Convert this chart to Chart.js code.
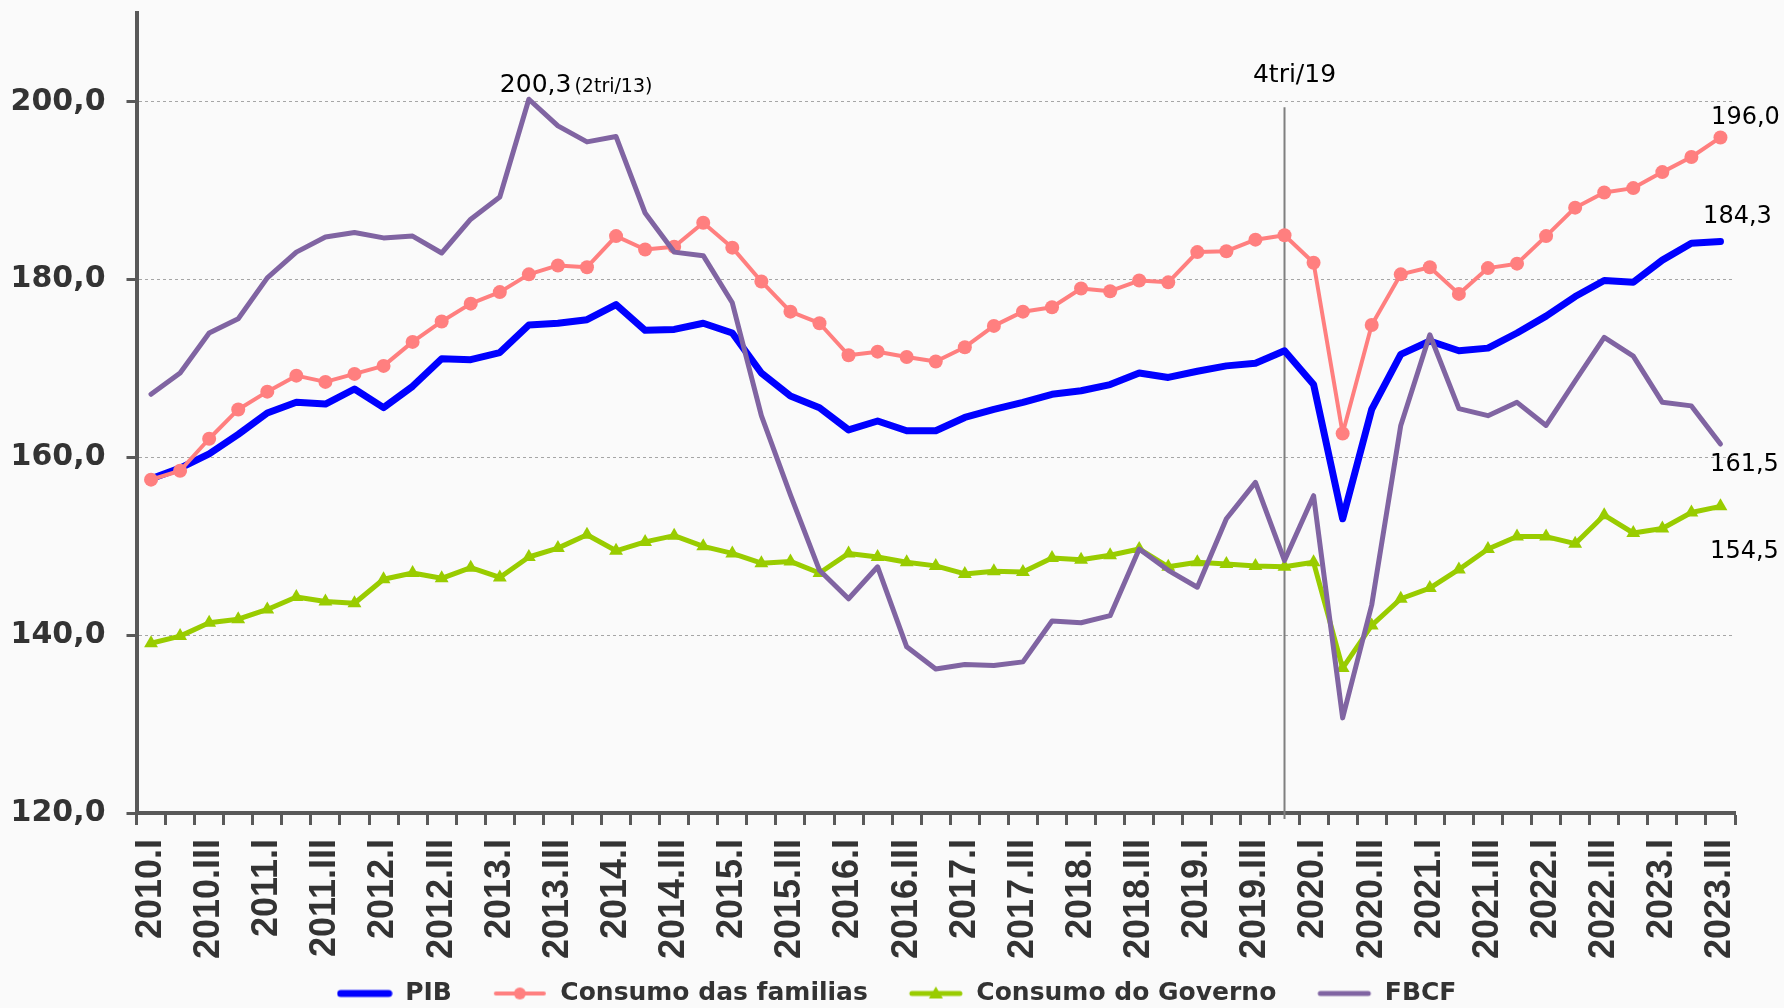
<!DOCTYPE html>
<html lang="pt-br">
<head>
<meta charset="UTF-8">
<title>PIB e componentes da demanda</title>
<script src="https://cdn.jsdelivr.net/npm/chart.js"></script>
<style>
  html, body { margin: 0; padding: 0; background: #fafafa; }
  #caixa { width: 1784px; height: 1008px; }
</style>
</head>
<body>
<div id="caixa"><canvas id="grafico"></canvas></div>

<script>
// trimestres 2010.I ... 2023.III
const trimestres = [
  '2010.I', '2010.II', '2010.III', '2010.IV',
  '2011.I', '2011.II', '2011.III', '2011.IV',
  '2012.I', '2012.II', '2012.III', '2012.IV',
  '2013.I', '2013.II', '2013.III', '2013.IV',
  '2014.I', '2014.II', '2014.III', '2014.IV',
  '2015.I', '2015.II', '2015.III', '2015.IV',
  '2016.I', '2016.II', '2016.III', '2016.IV',
  '2017.I', '2017.II', '2017.III', '2017.IV',
  '2018.I', '2018.II', '2018.III', '2018.IV',
  '2019.I', '2019.II', '2019.III', '2019.IV',
  '2020.I', '2020.II', '2020.III', '2020.IV',
  '2021.I', '2021.II', '2021.III', '2021.IV',
  '2022.I', '2022.II', '2022.III', '2022.IV',
  '2023.I', '2023.II', '2023.III'
];

const pib = [
  157.6, 158.8, 160.4, 162.6, 165.0, 166.2, 166.0, 167.7, 165.6, 168.0,
  171.1, 171.0, 171.8, 174.9, 175.1, 175.5, 177.2, 174.3, 174.4, 175.1,
  174.0, 169.5, 166.9, 165.6, 163.1, 164.1, 163.0, 163.0, 164.5, 165.4,
  166.2, 167.1, 167.5, 168.2, 169.5, 169.0, 169.7, 170.3, 170.6, 172.0,
  168.2, 153.1, 165.4, 171.6, 173.1, 172.0, 172.3, 174.0, 175.9, 178.1,
  179.9, 179.7, 182.2, 184.1, 184.3
];

const consumoFamilias = [
  157.5, 158.5, 162.1, 165.4, 167.4, 169.2, 168.5, 169.4, 170.3, 173.0,
  175.3, 177.3, 178.6, 180.6, 181.6, 181.4, 184.9, 183.4, 183.7, 186.4,
  183.6, 179.8, 176.4, 175.1, 171.5, 171.9, 171.3, 170.8, 172.4, 174.8,
  176.4, 176.9, 179.0, 178.7, 179.9, 179.7, 183.1, 183.2, 184.5, 185.0,
  181.9, 162.7, 174.9, 180.6, 181.4, 178.4, 181.3, 181.8, 184.9, 188.1,
  189.8, 190.3, 192.1, 193.8, 196.0
];

const consumoGoverno = [
  139.1, 139.9, 141.4, 141.8, 142.9, 144.3, 143.8, 143.6, 146.3, 147.0,
  146.4, 147.6, 146.5, 148.8, 149.8, 151.3, 149.5, 150.5, 151.2, 150.0,
  149.2, 148.1, 148.3, 147.0, 149.2, 148.8, 148.2, 147.8, 146.9, 147.2,
  147.1, 148.7, 148.5, 149.0, 149.7, 147.7, 148.2, 148.0, 147.8, 147.7,
  148.2, 136.3, 141.1, 144.1, 145.3, 147.4, 149.7, 151.1, 151.1, 150.3,
  153.5, 151.5, 152.0, 153.8, 154.5
];

const fbcf = [
  167.1, 169.5, 174.0, 175.6, 180.2, 183.1, 184.8, 185.3, 184.7, 184.9,
  183.0, 186.8, 189.3, 200.3, 197.3, 195.5, 196.1, 187.5, 183.1, 182.7,
  177.4, 164.7, 155.8, 147.3, 144.1, 147.7, 138.7, 136.2, 136.7, 136.6,
  137.0, 141.6, 141.4, 142.2, 149.7, 147.3, 145.4, 153.1, 157.2, 148.4,
  155.7, 130.7, 143.4, 163.6, 173.8, 165.5, 164.7, 166.2, 163.6, 168.6,
  173.5, 171.4, 166.2, 165.8, 161.5
];

const ticksY = [120, 140, 160, 180, 200];

const marco = '2019.IV';
const textoMarco = '4tri/19';
const rotuloPico = '(2tri/13)';

function virgula(v) {
  return v.toFixed(1).replace('.', ',');
}

// icone da legenda: linha com o marcador no meio
function iconeLegenda(ds) {
  const c = document.createElement('canvas');
  c.width = 56;
  c.height = 20;
  const g = c.getContext('2d');
  g.strokeStyle = ds.borderColor;
  g.fillStyle = ds.borderColor;
  g.lineWidth = ds.borderWidth;
  g.lineCap = 'round';
  g.beginPath();
  g.moveTo(4, 10);
  g.lineTo(52, 10);
  g.stroke();
  if (ds.pointStyle === 'circle' && ds.pointRadius > 0) {
    g.beginPath();
    g.arc(28, 10, 6, 0, 2 * Math.PI);
    g.fill();
  }
  if (ds.pointStyle === 'triangle') {
    g.beginPath();
    g.moveTo(28, 3);
    g.lineTo(35, 15);
    g.lineTo(21, 15);
    g.closePath();
    g.fill();
  }
  return c;
}

const anotacoes = {
  id: 'anotacoes',
  afterLayout(chart, args, opts) {
    // empurra a legenda para a posicao do original
    const lg = chart.legend;
    lg.left += opts.legendaDx;
    lg.right += opts.legendaDx;
    lg.top += opts.legendaDy;
    lg.bottom += opts.legendaDy;
  },
  beforeDatasetsDraw(chart) {
    const { ctx, chartArea, scales: { x, y } } = chart;
    const xm = x.getPixelForValue(trimestres.indexOf(marco));
    ctx.save();
    ctx.strokeStyle = '#7f7f7f';
    ctx.lineWidth = 2;
    ctx.beginPath();
    ctx.moveTo(xm, y.getPixelForValue(199.4));
    ctx.lineTo(xm, chartArea.bottom + 6);
    ctx.stroke();

    ctx.font = '25px "DejaVu Sans"';
    ctx.fillStyle = '#000';
    ctx.textAlign = 'center';
    ctx.textBaseline = 'alphabetic';
    ctx.fillText(textoMarco, xm + 10, y.getPixelForValue(202.2));
    ctx.restore();
  },
  afterDatasetsDraw(chart, args, opts) {
    const { ctx } = chart;
    ctx.save();
    ctx.fillStyle = '#000';

    // pico da FBCF
    const iPico = fbcf.indexOf(Math.max(...fbcf));
    const pico = chart.getDatasetMeta(3).data[iPico];
    ctx.textAlign = 'left';
    ctx.textBaseline = 'alphabetic';
    ctx.font = '25px "DejaVu Sans"';
    const txt = virgula(fbcf[iPico]);
    const x0 = pico.x - 29;
    const y0 = pico.y - 7;
    ctx.fillText(txt, x0, y0);
    const w = ctx.measureText(txt).width;
    ctx.font = '19px "DejaVu Sans"';
    ctx.fillText(rotuloPico, x0 + w + 3, y0);

    // ultimos valores
    ctx.font = '24px "DejaVu Sans"';
    ctx.textAlign = 'center';
    ctx.textBaseline = 'middle';
    chart.data.datasets.forEach((ds, i) => {
      const meta = chart.getDatasetMeta(i);
      const ult = meta.data[meta.data.length - 1];
      const d = opts.desloc[i];
      ctx.fillText(virgula(ds.data[ds.data.length - 1]), ult.x + d[0], ult.y + d[1]);
    });
    ctx.restore();
  }
};

Chart.defaults.font.family = '"DejaVu Sans"';

const config = {
  type: 'line',
  data: {
    labels: trimestres,
    datasets: [
      {
        label: 'PIB',
        data: pib,
        borderColor: '#0000ff',
        backgroundColor: '#0000ff',
        borderWidth: 7,
        pointRadius: 0,
        order: 4
      },
      {
        label: 'Consumo das familias',
        data: consumoFamilias,
        borderColor: '#ff7f7f',
        backgroundColor: '#ff7f7f',
        pointBackgroundColor: '#ff7f7f',
        borderWidth: 4,
        pointStyle: 'circle',
        pointRadius: 7,
        pointBorderWidth: 0,
        order: 3
      },
      {
        label: 'Consumo do Governo',
        data: consumoGoverno,
        borderColor: '#99cc00',
        backgroundColor: '#99cc00',
        pointBackgroundColor: '#99cc00',
        borderWidth: 5,
        pointStyle: 'triangle',
        pointRadius: 8,
        pointBorderWidth: 0,
        order: 2
      },
      {
        label: 'FBCF',
        data: fbcf,
        borderColor: '#8064a2',
        backgroundColor: '#8064a2',
        borderWidth: 5,
        pointRadius: 0,
        order: 1
      }
    ]
  },
  options: {
    animation: false,
    responsive: true,
    maintainAspectRatio: false,
    elements: {
      line: { tension: 0, borderJoinStyle: 'round', borderCapStyle: 'round' }
    },
    layout: { padding: { left: 0, right: 49, top: 13, bottom: -30 } },
    plugins: {
      tooltip: { enabled: false },
      legend: {
        position: 'bottom',
        labels: {
          usePointStyle: true,
          pointStyleWidth: 56,
          padding: 40,
          color: '#333',
          font: { size: 25, weight: 'bold' },
          generateLabels: chart => chart.data.datasets.map((ds, i) => ({
            text: ds.label,
            pointStyle: iconeLegenda(ds),
            fontColor: '#333',
            fillStyle: 'transparent',
            strokeStyle: 'transparent',
            lineWidth: 0,
            hidden: false,
            datasetIndex: i
          }))
        }
      },
      anotacoes: {
        legendaDx: 29,
        legendaDy: -22,
        desloc: [[17, -25], [25, -20], [24, 45], [24, 21]]
      }
    },
    scales: {
      x: {
        offset: true,
        grid: {
          offset: true,
          drawOnChartArea: false,
          drawTicks: true,
          tickLength: 12,
          tickColor: '#595959',
          tickWidth: 3
        },
        border: { color: '#595959', width: 4 },
        ticks: {
          autoSkip: false,
          maxRotation: 90,
          minRotation: 90,
          padding: 14,
          color: '#333',
          font: { family: '"Liberation Sans"', size: 36, weight: 'bold' },
          callback: function (v, i) {
            return i % 2 ? '' : this.getLabelForValue(v);
          }
        },
        afterFit: s => { s.height = 150; }
      },
      y: {
        min: 120,
        max: 210,
        afterBuildTicks: s => { s.ticks = ticksY.map(v => ({ value: v })); },
        grid: {
          color: '#a6a6a6',
          lineWidth: 1,
          tickLength: 10,
          tickColor: '#595959',
          tickWidth: 3,
          tickBorderDash: []
        },
        border: { color: '#595959', width: 4, dash: [3, 3] },
        ticks: {
          padding: 21,
          color: '#333',
          font: { size: 30, weight: 'bold' },
          callback: v => virgula(v)
        },
        afterFit: s => {
          s.width = 136.5;
          s.paddingTop = 0;
          s.paddingBottom = 0;
        }
      }
    }
  },
  plugins: [anotacoes]
};

new Chart(document.getElementById('grafico'), config);
</script>
</body>
</html>
